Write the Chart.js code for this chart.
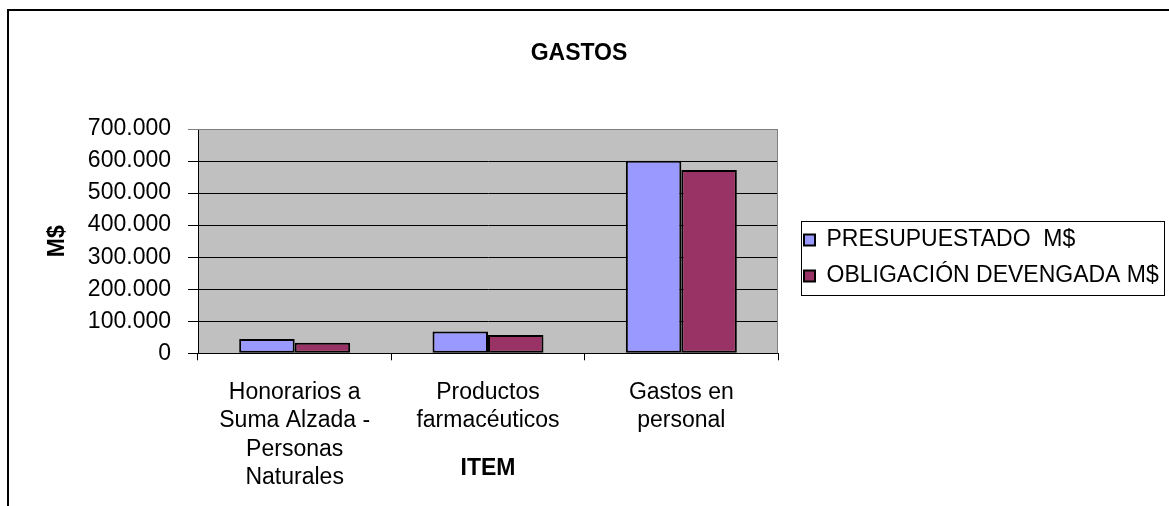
<!DOCTYPE html>
<html>
<head>
<meta charset="utf-8">
<script src="https://cdn.jsdelivr.net/npm/chart.js"></script>
<style>
  body { margin: 0; background: #fff; }
  canvas { display: block; }
</style>
</head>
<body>
<canvas id="myChart" width="1169" height="506"></canvas>
<script>
var items = [
    ["Honorarios a", "Suma Alzada -", "Personas", "Naturales"],
    ["Productos", "farmacéuticos"],
    ["Gastos en", "personal"]
];
var seriesNames = ["PRESUPUESTADO  M$", "OBLIGACIÓN DEVENGADA M$"];
var presupuestado = [45000, 68000, 601000];
var obligacion = [33000, 57000, 572000];
var yTicks = [0, 100000, 200000, 300000, 400000, 500000, 600000, 700000];

Chart.defaults.font.family = "'Liberation Sans', Arial, sans-serif";
Chart.defaults.font.size = 23;
Chart.defaults.color = '#000';

function miles(v) {
    return v.toString().replace(/\B(?=(\d{3})+(?!\d))/g, '.');
}

// gray plot area, outer frame and legend box
var excelLook = {
    id: 'excelLook',
    afterLayout: function(chart) {
        var l = chart.legend;
        l.left += 13; l.right += 13;
        l.top += 5; l.bottom += 5;
    },
    beforeDraw: function(chart) {
        var c = chart.ctx, a = chart.chartArea;
        c.save();
        c.fillStyle = '#C0C0C0';
        c.fillRect(a.left, a.top, a.right - a.left, a.bottom - a.top);
        c.restore();
    },
    afterDraw: function(chart) {
        var c = chart.ctx, a = chart.chartArea, l = chart.legend;
        c.save();
        c.strokeStyle = '#808080';
        c.lineWidth = 1;
        c.beginPath();
        c.moveTo(a.left, a.top + 0.5);
        c.lineTo(a.right - 0.5, a.top + 0.5);
        c.lineTo(a.right - 0.5, a.bottom);
        c.stroke();

        c.strokeStyle = '#000';
        c.lineWidth = 1;
        var mid = (l.top + l.bottom) / 2;
        c.strokeRect(Math.round(l.left + 10) + 0.5, Math.round(mid - 37) + 0.5, 363, 74);

        c.lineWidth = 2;
        c.beginPath();
        c.moveTo(8, 506);
        c.lineTo(8, 10);
        c.lineTo(1169, 10);
        c.stroke();
        c.restore();
    }
};

var ctx = document.getElementById("myChart").getContext('2d');
var myChart = new Chart(ctx, {
    type: 'bar',
    data: {
        labels: items,
        datasets: [{
            label: seriesNames[0],
            data: presupuestado,
            backgroundColor: '#9999FF',
            borderColor: '#000000',
            borderWidth: 2,
            borderSkipped: false
        }, {
            label: seriesNames[1],
            data: obligacion,
            backgroundColor: '#993366',
            borderColor: '#000000',
            borderWidth: 2,
            borderSkipped: false
        }]
    },
    options: {
        responsive: false,
        animation: false,
        layout: { padding: { left: 10, right: 21, top: 0, bottom: 0 } },
        datasets: {
            bar: { categoryPercentage: 0.574, barPercentage: 1 }
        },
        scales: {
            x: {
                grid: { display: true, drawOnChartArea: false, tickLength: 7, color: '#000' },
                border: { color: '#000', width: 1 },
                ticks: { padding: 18, font: { size: 23, lineHeight: 1.24 }, maxRotation: 0, autoSkip: false },
                title: { display: true, text: 'ITEM', font: { size: 23, weight: 'bold', lineHeight: 1.2 }, padding: { top: 0, bottom: 24 } },
                afterFit: function(scale) { scale.height = 152.7; }
            },
            y: {
                min: 0,
                max: 700000,
                afterBuildTicks: function(scale) {
                    scale.ticks = yTicks.map(function(v) { return { value: v }; });
                },
                grid: {
                    tickLength: 10,
                    color: function(c) { return c.tick && c.tick.value === 700000 ? '#808080' : '#000'; }
                },
                border: { color: '#000', width: 1 },
                ticks: { padding: 17, font: { size: 23 }, callback: function(v) { return miles(v); } },
                title: { display: true, text: 'M$', font: { size: 23, weight: 'bold', lineHeight: 1.2 }, padding: { top: 34, bottom: 0 } },
                afterFit: function(scale) { scale.width = 188; }
            }
        },
        plugins: {
            title: {
                display: true,
                text: 'GASTOS',
                font: { size: 23, weight: 'bold', lineHeight: 1.2 },
                padding: { top: 40, bottom: 61.4 }
            },
            legend: {
                position: 'right',
                align: 'center',
                maxWidth: 370,
                labels: { boxWidth: 11, boxHeight: 11, padding: 13, font: { size: 23 }, color: '#000' }
            },
            tooltip: { enabled: false }
        }
    },
    plugins: [excelLook]
});
</script>
</body>
</html>
